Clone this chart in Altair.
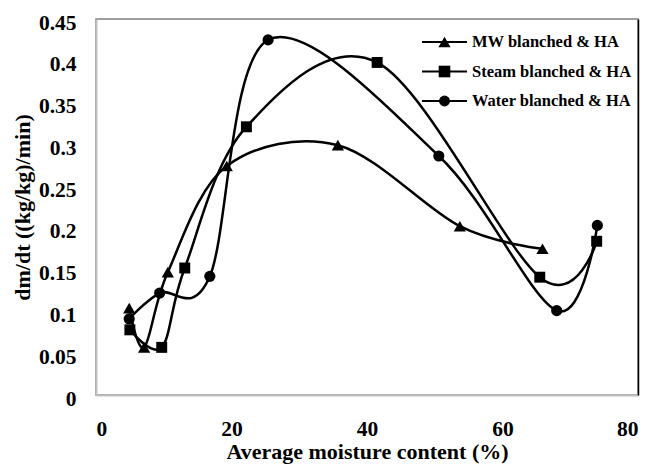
import altair as alt
import pandas as pd

series = ["MW blanched & HA", "Steam blanched & HA", "Water blanched & HA"]

mw_x = [4.9, 7.1, 10.6, 19.3, 35.7, 53.7, 65.9]
mw_y = [0.104, 0.057, 0.147, 0.274, 0.299, 0.202, 0.175]
st_x = [5.0, 9.7, 13.1, 22.2, 41.5, 65.5, 73.9]
st_y = [0.078, 0.057, 0.152, 0.321, 0.398, 0.141, 0.184]
wa_x = [4.9, 9.4, 16.8, 25.4, 50.6, 68.0, 74.0]
wa_y = [0.091, 0.122, 0.142, 0.425, 0.286, 0.101, 0.203]

x_ticks = [0, 20, 40, 60, 80]
y_ticks = [0, 0.05, 0.1, 0.15, 0.2, 0.25, 0.3, 0.35, 0.4, 0.45]

rows = []
for name, xs, ys in zip(series, [mw_x, st_x, wa_x], [mw_y, st_y, wa_y]):
    for i, (xv, yv) in enumerate(zip(xs, ys)):
        rows.append({"series": name, "x": xv, "y": yv, "order": i})
df = pd.DataFrame(rows)
legend_df = pd.DataFrame({"series": series})

FONT = "Liberation Serif"
yscale = alt.Scale(domain=[0, 0.45], nice=False)

xenc = alt.X("x:Q", scale=alt.Scale(domain=[0, 80], nice=False),
             axis=alt.Axis(values=x_ticks, title="Average moisture content (%)",
                           grid=False, ticks=False, tickSize=0, labelPadding=23,
                           domainColor="#c0c0c0", domainWidth=2,
                           titleY=63, titleBaseline="alphabetic"))
yenc = alt.Y("y:Q", scale=yscale,
             axis=alt.Axis(orient="left", values=y_ticks, format=".2~f", title="dm/dt ((kg/kg)/min)",
                           grid=False, ticks=False, tickSize=0, labelPadding=20, labelOffset=4,
                           domainColor="#c0c0c0", domainWidth=2,
                           titleX=-67, titleY=188, titleAngle=270,
                           titleBaseline="alphabetic", titleAlign="center"))
ynone = alt.Y("y:Q", scale=yscale, axis=None)

base = alt.Chart(df)

lines = base.mark_line(interpolate="cardinal", color="black").encode(
    x=xenc, y=yenc,
    detail="series:N",
    order="order:O",
    strokeWidth=alt.StrokeWidth("series:N", scale=alt.Scale(domain=series, range=[2.5, 2.5, 1.5]), legend=None),
)

marker_shapes = ["triangle-up", "square", "circle"]
marker_sizes = [150, 120, 125]
point_layers = [
    base.transform_filter(alt.datum.series == name).mark_point(
        filled=True, color="black", opacity=1, shape=shp, size=sz
    ).encode(x=xenc, y=ynone)
    for name, shp, sz in zip(series, marker_shapes, marker_sizes)
]

# manual legend (inside top-right of the plot)
leg_y = alt.Y("series:N", scale=alt.Scale(type="point", domain=series, range=[23, 82], padding=0), axis=None)
lbase = alt.Chart(legend_df)
leg_rule = lbase.mark_rule(color="black", strokeWidth=2).encode(
    x=alt.value(326), x2=alt.value(371), y=leg_y)
leg_pts = lbase.mark_point(filled=True, color="black", opacity=1).encode(
    x=alt.value(348.5), y=leg_y,
    shape=alt.Shape("series:N", scale=alt.Scale(domain=series, range=marker_shapes), legend=None),
    size=alt.Size("series:N", scale=alt.Scale(domain=series, range=marker_sizes), legend=None),
)
leg_txt = lbase.mark_text(align="left", baseline="middle", font=FONT, fontSize=16.5,
                          fontWeight="bold", color="black").encode(
    x=alt.value(376), y=leg_y, text="series:N")

right_axis = base.mark_point(opacity=0).encode(
    x=xenc,
    y=alt.Y("y:Q", scale=yscale,
            axis=alt.Axis(orient="right", labels=False, ticks=False, title=None, grid=False,
                          domainColor="black", domainWidth=1.5)),
)

chart = alt.layer(lines, *point_layers, right_axis, leg_rule, leg_pts, leg_txt).resolve_scale(
    y="independent"
).resolve_axis(
    y="independent"
).properties(
    width=542, height=376,
    autosize=alt.AutoSizeParams(type="none"),
    padding={"left": 96, "top": 19, "right": 13, "bottom": 72},
    background="white",
).configure_view(
    stroke="#808080", strokeWidth=1.5
).configure_axis(
    labelFont=FONT, labelFontSize=21.5, labelFontWeight="bold", labelColor="black",
    titleFont=FONT, titleFontSize=22, titleFontWeight="bold", titleColor="black",
)

chart.save("out.html", embed_options={"renderer": "svg", "actions": False})
